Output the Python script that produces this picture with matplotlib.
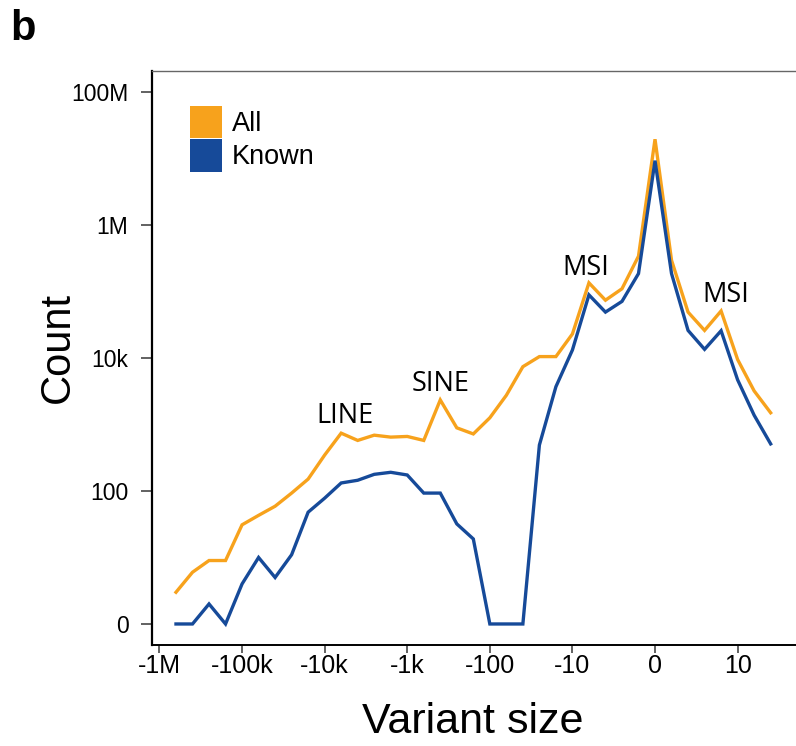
import numpy as np
import matplotlib
matplotlib.use("Agg")
import matplotlib.pyplot as plt
from matplotlib.patches import Patch

plt.rcParams['font.family'] = ['Liberation Sans', 'DejaVu Sans']

# x position of each size bin, in decades (negative = deletion side, 0 = no length change)
bin_pos = [-5.8, -5.6, -5.4, -5.2, -5.0, -4.8, -4.6, -4.4, -4.2, -4.0,
           -3.8, -3.6, -3.4, -3.2, -3.0, -2.8, -2.6, -2.4, -2.2, -2.0,
           -1.8, -1.6, -1.4, -1.2, -1.0, -0.8, -0.6, -0.4, -0.2, 0.0,
           0.2, 0.4, 0.6, 0.8, 1.0, 1.2, 1.4]

# counts
all_counts = [2, 5, 8, 8, 30, 42, 58, 92, 150, 346,
              740, 575, 690, 645, 660, 575, 2340, 890, 720, 1260,
              2750, 7400, 10500, 10500, 23000, 135000, 74000, 110000, 340000, 19500000,
              295000, 49000, 26000, 51000, 9500, 3200, 1500]
known_counts = [0, 0, 1, 0, 3, 9, 4, 10, 47, 77,
                131, 144, 177, 190, 173, 92, 92, 31, 18, 0,
                0, 0, 490, 3700, 13200, 89000, 49000, 71000, 186000, 9300000,
                186000, 26000, 13500, 25700, 4700, 1380, 510]

xtick_pos = [-6, -5, -4, -3, -2, -1, 0, 1]
xtick_labels = ['-1M', '-100k', '-10k', '-1k', '-100', '-10', '0', '10']
ytick_vals = [0, 100, 1e4, 1e6, 1e8]
ytick_labels = ['0', '100', '10k', '1M', '100M']

orange = '#F7A21C'
blue = '#164A99'

fig = plt.figure(figsize=(7.96, 7.46), dpi=100)
ax = fig.add_axes([0.191, 0.1354, 0.809, 0.7694])

ax.plot(bin_pos, all_counts, color=orange, lw=2.4, solid_joinstyle='miter')
ax.plot(bin_pos, known_counts, color=blue, lw=2.4, solid_joinstyle='miter')

# log10(count + 1) axis so that zero counts sit on the "0" tick
ax.set_yscale('function', functions=(lambda c: np.log10(np.asarray(c) + 1.0),
                                      lambda v: 10.0 ** np.asarray(v) - 1.0))
ax.set_ylim(-0.517, 2.07e8)
ax.set_xlim(-6.09, 1.707)

ax.set_yticks(ytick_vals)
ax.set_yticklabels(ytick_labels)
ax.set_xticks(xtick_pos)
ax.set_xticklabels(xtick_labels)
ax.minorticks_off()

ax.tick_params(axis='y', length=8, width=1.3, color='#555555', pad=9, labelsize=16.5)
ax.tick_params(axis='x', length=6, width=1.3, color='#555555', pad=0.5, labelsize=18)

ax.spines['right'].set_visible(False)
ax.spines['left'].set_linewidth(1.6)
ax.spines['left'].set_color('black')
ax.spines['bottom'].set_linewidth(1.4)
ax.spines['bottom'].set_color('black')
ax.spines['top'].set_linewidth(1.0)
ax.spines['top'].set_color('#666666')

ax.set_xlabel('Variant size', fontsize=31)
ax.set_ylabel('Count', fontsize=30)
ax.xaxis.set_label_coords(0.4985, -0.100)
ax.yaxis.set_label_coords(-0.115, 0.518)

# region labels
note_font = dict(fontsize=19.5, family=['Open Sans', 'DejaVu Sans'], ha='center', va='center',
                 transform=ax.transAxes)
ax.text(0.2997, 0.399, 'LINE', **note_font)
ax.text(0.448, 0.4547, 'SINE', **note_font)
ax.text(0.6731, 0.6568, 'MSI', **note_font)
ax.text(0.8905, 0.6098, 'MSI', **note_font)

handles = [Patch(facecolor=orange, edgecolor='none', label='All'),
           Patch(facecolor=blue, edgecolor='none', label='Known')]
ax.legend(handles=handles, loc='upper left', bbox_to_anchor=(0.059, 0.939),
          frameon=False, fontsize=19.5, handlelength=1.185, handleheight=1.446,
          handletextpad=0.37, labelspacing=0.05, borderpad=0, borderaxespad=0)

fig.text(0.013, 0.988, 'b', fontsize=30, fontweight='bold', ha='left', va='top')

fig.savefig('out.png', dpi=100)
